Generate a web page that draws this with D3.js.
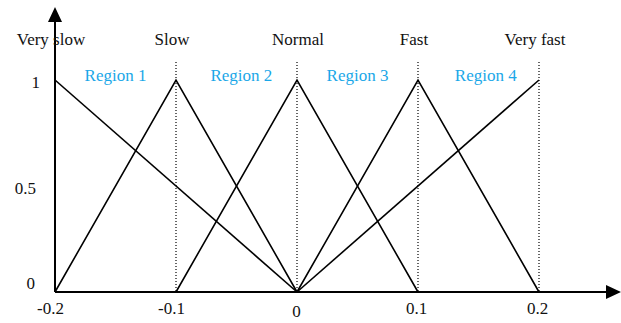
<!DOCTYPE html>
<html>
<head>
<meta charset="utf-8">
<script src="https://cdn.jsdelivr.net/npm/d3@7"></script>
<style>
  body { margin: 0; background: #fff; }
  text { font-family: "Liberation Serif", "Times New Roman", serif; font-size: 17px; fill: #111; }
  .region { fill: #1aa7e8; }
</style>
</head>
<body>
<svg id="chart"></svg>
<script>
// membership functions: name, peak position, breakpoints [x, mu]
const setNames = ['Very slow', 'Slow', 'Normal', 'Fast', 'Very fast'];
const setPeaks = [-0.2, -0.1, 0, 0.1, 0.2];
const setPoints = [
  [[-0.2, 1], [0, 0]],
  [[-0.2, 0], [-0.1, 1], [0, 0]],
  [[-0.1, 0], [0, 1], [0.1, 0]],
  [[0, 0], [0.1, 1], [0.2, 0]],
  [[0, 0], [0.2, 1]]
];
const regionNames = ['Region 1', 'Region 2', 'Region 3', 'Region 4'];
const regionCenters = [-0.15, -0.046, 0.05, 0.156];
const dottedAt = [-0.1, 0, 0.1, 0.2];
const xTicks = [-0.2, -0.1, 0, 0.1, 0.2];
const yTicks = [0, 0.5, 1];

const width = 621, height = 323;
const svg = d3.select('#chart').attr('width', width).attr('height', height);

const x = d3.scaleLinear().domain([-0.2, 0.2]).range([55, 539]);
const y = d3.scaleLinear().domain([0, 1]).range([292, 80]);

// dotted guides
svg.selectAll('.guide')
  .data(dottedAt)
  .join('line')
  .attr('x1', d => x(d)).attr('x2', d => x(d))
  .attr('y1', 62).attr('y2', y(0))
  .attr('stroke', '#000')
  .attr('stroke-width', 1.2)
  .attr('stroke-dasharray', '1,2');

// membership lines
const line = d3.line().x(d => x(d[0])).y(d => y(d[1]));
svg.selectAll('.mf')
  .data(setPoints)
  .join('path')
  .attr('d', line)
  .attr('fill', 'none')
  .attr('stroke', '#000')
  .attr('stroke-width', 1.6);

// axes with arrows
svg.append('line')
  .attr('x1', x(-0.2)).attr('x2', 606)
  .attr('y1', y(0)).attr('y2', y(0))
  .attr('stroke', '#000').attr('stroke-width', 2);
svg.append('path')
  .attr('d', `M621,${y(0)} L606,${y(0) - 7} L606,${y(0) + 7} Z`)
  .attr('fill', '#000');

svg.append('line')
  .attr('x1', x(-0.2)).attr('x2', x(-0.2))
  .attr('y1', y(0)).attr('y2', 20)
  .attr('stroke', '#000').attr('stroke-width', 2);
svg.append('path')
  .attr('d', `M${x(-0.2)},7 L${x(-0.2) - 7},22 L${x(-0.2) + 7},22 Z`)
  .attr('fill', '#000');

// tick labels (plain hyphen for negatives, like the original)
const xAxisG = svg.append('g')
  .attr('transform', `translate(0,${y(0)})`)
  .call(d3.axisBottom(x).tickValues(xTicks).tickSize(0).tickPadding(0)
    .tickFormat(d => d === 0 ? '0' : d.toFixed(1)));
xAxisG.select('.domain').remove();
xAxisG.selectAll('text')
  .attr('font-family', null).attr('font-size', null)
  .attr('y', d => d === 0 ? 25 : 22)
  .attr('dy', null)
  .attr('dx', d => d < 0 ? -5 : (d === 0 ? -1 : -2));

const yAxisG = svg.append('g')
  .attr('transform', `translate(${x(-0.2)},0)`)
  .call(d3.axisLeft(y).tickValues(yTicks).tickSize(0).tickPadding(0)
    .tickFormat(d => d === 0.5 ? '0.5' : String(d)));
yAxisG.select('.domain').remove();
yAxisG.selectAll('text')
  .attr('font-family', null).attr('font-size', null)
  .attr('x', d => d === 1 ? -15 : (d === 0.5 ? -19 : -20))
  .attr('dy', d => d === 0 ? -4 : 7);

// set names on top
svg.selectAll('.setname')
  .data(setNames)
  .join('text')
  .attr('x', (d, i) => x(setPeaks[i]) - (i === 2 ? -1 : 4))
  .attr('y', 45)
  .attr('text-anchor', 'middle')
  .text(d => d);

// region labels
svg.selectAll('.region')
  .data(regionNames)
  .join('text')
  .attr('class', 'region')
  .attr('x', (d, i) => x(regionCenters[i]))
  .attr('y', 81)
  .attr('text-anchor', 'middle')
  .text(d => d);
</script>
</body>
</html>
